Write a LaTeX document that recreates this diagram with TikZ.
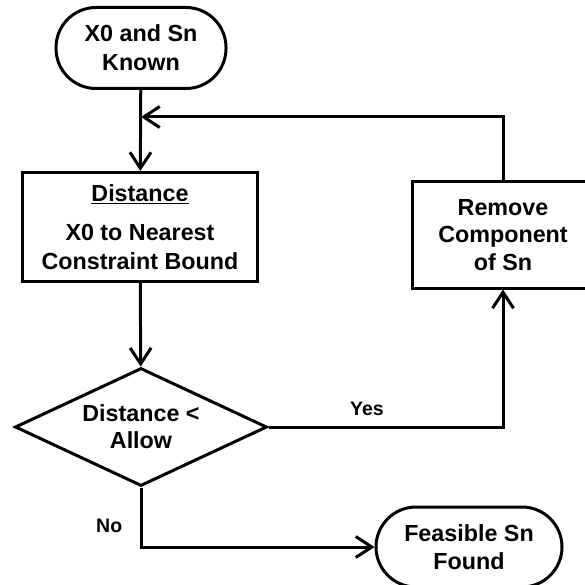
\documentclass[tikz,border=0pt]{standalone}
\usepackage{fontspec}
\setmainfont{Liberation Sans}
\usetikzlibrary{arrows.meta,shapes.geometric}
\tikzset{
	flowbox/.style={draw, line width=3pt, align=center, inner sep=0pt,
		font=\bfseries\fontsize{23.3}{29}\selectfont},
	termbox/.style={flowbox, rounded corners=40pt},
	decbox/.style={flowbox, diamond, aspect=2.14},
	flowline/.style={line width=3pt},
	flowarrow/.style={flowline, -{Straight Barb[length=16pt,width=21pt]}},
	flowlabel/.style={font=\bfseries\fontsize{19.5}{22}\selectfont}
}

\begin{document}
\begin{tikzpicture}[x=1pt, y=-1pt]
			%%%%% START %%%%%
			
			\useasboundingbox (0, 0) rectangle (585, 585);
			
			\node[termbox, minimum width=170pt, minimum height=81pt] (known) at (141, 48) {X0 and Sn\\Known};
			\node[flowbox, minimum width=235pt, minimum height=109pt] (dist) at (140, 227) {\underline{Distance}\\[10pt]X0 to Nearest\\Constraint Bound};
			\node[flowbox, minimum width=182pt, minimum height=106pt, font=\bfseries\fontsize{23.3}{27.5}\selectfont] (remove) at (503, 235) {Remove\\Component\\of Sn};
			\node[decbox, minimum width=252pt, minimum height=118pt, font=\bfseries\fontsize{23.3}{27}\selectfont] (allow) at (141, 427) {Distance <\\Allow};
			\node[termbox, minimum width=186pt, minimum height=80pt, font=\bfseries\fontsize{23.3}{28}\selectfont] (found) at (469, 547) {Feasible Sn\\Found};
			
			\coordinate (merge) at (141, 117);
			
			\draw[flowarrow] (known) -- (dist);
			\draw[flowarrow] (remove.north) |- (merge);
			\draw[flowarrow] (dist) -- (allow);
			\draw[flowarrow] (allow.east) -| (remove.south) node[flowlabel, pos=0.21, above, yshift=6pt] {Yes};
			\draw[flowarrow] (allow.south) |- (found.west) node[flowlabel, pos=0.32, left, xshift=-14pt] {No};
			
			%%%%% END %%%%%
\end{tikzpicture}
\end{document}
